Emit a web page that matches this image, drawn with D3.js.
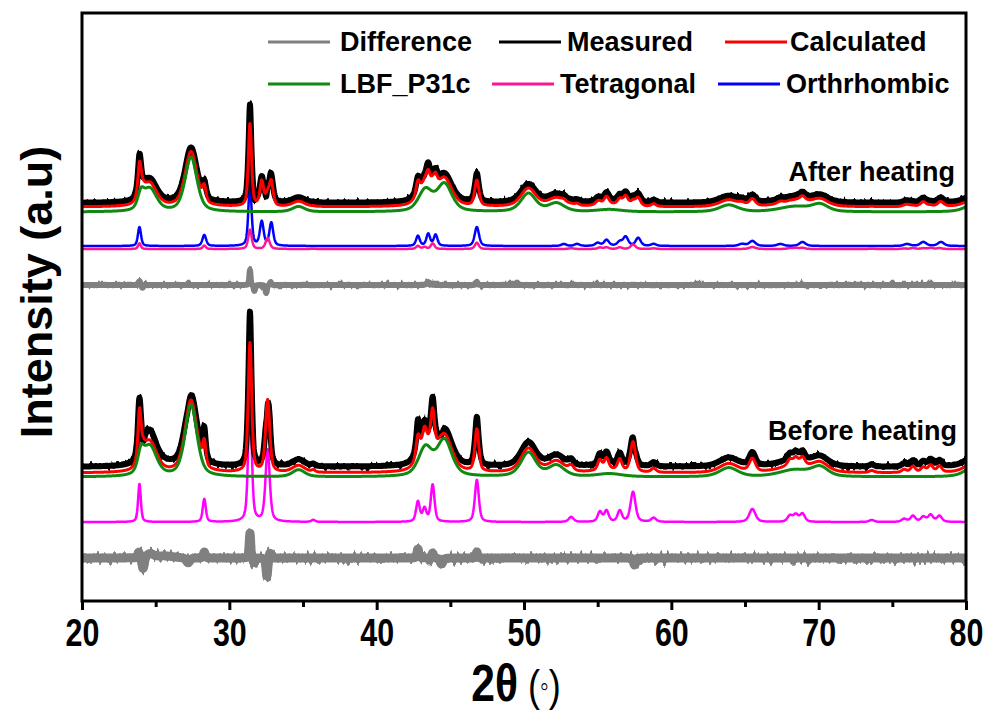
<!DOCTYPE html>
<html>
<head>
<meta charset="utf-8">
<script src="https://cdn.jsdelivr.net/npm/d3@7"></script>
<style>
  body { margin: 0; background: #fff; }
  text { font-family: "Liberation Sans", Arial, sans-serif; }
</style>
</head>
<body>
<div id="chart"></div>
<script>
// reflection lists: [2theta, height, fwhm]
const lbfPeaks = [
  [24.0, 18, 0.5], [24.6, 30, 1.1], [27.4, 72, 0.95], [34.7, 7, 1.0],
  [43.3, 28, 1.1], [44.6, 36, 1.2], [50.3, 24, 1.2], [52.2, 11, 1.3],
  [55.8, 3, 2.0], [63.9, 9, 1.5], [68.4, 7, 2.5], [70.1, 9, 1.3], [80.8, 14, 1.6]
];
const tetraPeaks = [
  [23.9, 38, 0.22], [28.3, 23, 0.25], [31.4, 129, 0.28], [32.6, 72, 0.34],
  [35.7, 2, 0.3], [42.8, 20, 0.3], [43.25, 13, 0.3], [43.8, 37, 0.3],
  [46.8, 42, 0.32], [53.2, 5, 0.4], [55.15, 10, 0.35], [55.6, 11, 0.35],
  [56.5, 11, 0.35], [57.4, 30, 0.4], [58.8, 4, 0.4], [65.5, 13, 0.5],
  [68.05, 6, 0.4], [68.45, 7, 0.4], [68.9, 8, 0.4], [73.6, 2, 0.4],
  [75.8, 3, 0.4], [76.4, 6, 0.4], [77.1, 5, 0.4], [77.6, 7, 0.4], [78.2, 6, 0.4]
];
const orthoPeaks = [
  [23.9, 19, 0.25], [28.3, 11, 0.3], [31.4, 63, 0.25], [32.2, 24, 0.3],
  [32.85, 23, 0.3], [42.8, 10, 0.3], [43.5, 12, 0.3], [44.0, 11, 0.3],
  [46.8, 19, 0.35], [52.7, 2, 0.4], [53.6, 2, 0.4], [55.0, 3, 0.4],
  [55.6, 6, 0.4], [56.5, 4, 0.4], [56.9, 9, 0.4], [57.75, 8, 0.4],
  [58.8, 2, 0.4], [64.8, 2, 0.5], [65.5, 5, 0.5], [67.4, 2, 0.5],
  [68.9, 4, 0.5], [76.0, 2, 0.5], [77.1, 4, 0.5], [78.3, 4, 0.5]
];
// measured minus calculated
const residBefore = [
  [23.85, 6, 0.15], [24.15, -12, 0.2], [24.6, 4, 0.6], [25.6, 2, 1.5],
  [27.2, -5, 0.3], [28.3, 6, 0.15], [31.4, 25, 0.12], [31.65, -5, 0.12],
  [32.55, -18, 0.15], [32.75, 6, 0.12], [42.8, 9, 0.15], [43.8, 5, 0.15],
  [44.4, -6, 0.25], [46.8, 6, 0.12], [57.5, -7, 0.15]
];
const residAfter = [
  [23.9, 4, 0.15], [24.1, -3, 0.15], [31.4, 15, 0.1], [31.7, -6, 0.12],
  [32.5, -8, 0.12], [32.8, 3, 0.12], [43.5, 3, 0.25], [46.8, 3, 0.12]
];
// phase scale factors and stacking offsets
const lbfScale = {before: 1, after: 0.76};
const tetraScale = {before: 1, after: 0.15};
const offsets = {
  before: {diff: 43, tetra: 79, lbf: 124, calc: 128, meas: 134},
  after: {diff: 316, tetra: 352, ortho: 355, lbf: 389, calc: 394, meas: 398}
};
const legendRows = [
  [["Difference", "#808080"], ["Measured", "#000000"], ["Calculated", "#ff0000"]],
  [["LBF_P31c", "#118811"], ["Tetragonal", "#ff1493"], ["Orthrhombic", "#0000ff"]]
];
const xTicks = [20, 30, 40, 50, 60, 70, 80];

const W = 992, H = 711;
const margin = {left: 82, right: 26, top: 13, bottom: 110};

const svg = d3.select("#chart").append("svg").attr("width", W).attr("height", H);

const x = d3.scaleLinear().domain([20, 80]).range([margin.left, W - margin.right]);
const y = d3.scaleLinear().domain([0, 588]).range([H - margin.bottom, margin.top]);

const grid = d3.range(20, 80.0001, 0.02);

function pv(t, p) {
  let u = (t - p[0]) / p[2];
  let g = Math.exp(-4 * Math.LN2 * u * u);
  let l = 1 / (1 + 4 * u * u);
  return p[1] * (0.5 * l + 0.5 * g);
}
function pattern(peaks, k) {
  return grid.map(t => d3.sum(peaks, p => pv(t, p)) * k);
}

const lbfB = pattern(lbfPeaks, lbfScale.before);
const tetB = pattern(tetraPeaks, tetraScale.before);
const resB = pattern(residBefore, 1);
const lbfA = pattern(lbfPeaks, lbfScale.after);
const tetA = pattern(tetraPeaks, tetraScale.after);
const ortA = pattern(orthoPeaks, 1);
const resA = pattern(residAfter, 1);

const ob = offsets.before, oa = offsets.after;
const series = {
  diffB: grid.map((t, i) => ob.diff + resB[i]),
  tetB: grid.map((t, i) => ob.tetra + tetB[i]),
  lbfB: grid.map((t, i) => ob.lbf + lbfB[i]),
  calcB: grid.map((t, i) => ob.calc + lbfB[i] + tetB[i]),
  measB: grid.map((t, i) => ob.meas + lbfB[i] + tetB[i] + resB[i]),
  diffA: grid.map((t, i) => oa.diff + resA[i]),
  tetA: grid.map((t, i) => oa.tetra + tetA[i]),
  ortA: grid.map((t, i) => oa.ortho + ortA[i]),
  lbfA: grid.map((t, i) => oa.lbf + lbfA[i]),
  calcA: grid.map((t, i) => oa.calc + lbfA[i] + tetA[i] + ortA[i]),
  measA: grid.map((t, i) => oa.meas + lbfA[i] + tetA[i] + ortA[i] + resA[i])
};

// noise texture for measured / difference traces (rendering only)
const defs = svg.append("defs");
function jitter(id, freq, scale, seed) {
  let f = defs.append("filter").attr("id", id)
    .attr("filterUnits", "userSpaceOnUse")
    .attr("x", 0).attr("y", 0).attr("width", W).attr("height", H);
  f.append("feTurbulence").attr("type", "fractalNoise")
    .attr("baseFrequency", freq).attr("numOctaves", 1).attr("seed", seed).attr("result", "n");
  let ct = f.append("feComponentTransfer").attr("in", "n").attr("result", "n2");
  ct.append("feFuncR").attr("type", "table").attr("tableValues", "0.5 0.5");
  f.append("feDisplacementMap").attr("in", "SourceGraphic").attr("in2", "n2")
    .attr("scale", scale).attr("xChannelSelector", "R").attr("yChannelSelector", "G");
}
jitter("jMeas", "0.3 0.02", 12, 2);
jitter("jDiffA", "0.3 0.02", 12, 5);
jitter("jDiffB", "0.3 0.02", 18, 7);

defs.append("clipPath").attr("id", "clip").append("rect")
  .attr("x", x(20)).attr("y", y(588)).attr("width", x(80) - x(20)).attr("height", y(0) - y(588));

const line = d3.line().x((d, i) => x(grid[i])).y(d => y(d));

const plot = svg.append("g").attr("clip-path", "url(#clip)");
function draw(data, color, width, filter) {
  let p = plot.append("path").datum(data).attr("d", line)
    .attr("fill", "none").attr("stroke", color).attr("stroke-width", width)
    .attr("stroke-linejoin", "round");
  if (filter) p.attr("filter", "url(#" + filter + ")");
}
function noisy(data, color, width, filter) {
  draw(data, color, width);
  draw(data, color, width - 1.5, filter);
}

noisy(series.diffB, "#808080", 9, "jDiffB");
draw(series.tetB, "#ff00ff", 2.5);
noisy(series.measB, "#000000", 6, "jMeas");
draw(series.calcB, "#ff0000", 3);
draw(series.lbfB, "#118811", 3);

noisy(series.diffA, "#808080", 6, "jDiffA");
draw(series.ortA, "#0000ff", 2.5);
draw(series.tetA, "#ff1493", 2.5);
noisy(series.measA, "#000000", 6, "jMeas");
draw(series.calcA, "#ff0000", 3);
draw(series.lbfA, "#118811", 3);

// frame
svg.append("rect").attr("x", x(20)).attr("y", y(588))
  .attr("width", x(80) - x(20)).attr("height", y(0) - y(588))
  .attr("fill", "none").attr("stroke", "#000").attr("stroke-width", 3);

// bottom axis
const xAxis = d3.axisBottom(x).tickValues(xTicks).tickSize(9).tickSizeOuter(0);
const gx = svg.append("g").attr("transform", `translate(0,${y(0)})`).call(xAxis);
gx.select(".domain").remove();
gx.selectAll(".tick line").attr("stroke-width", 3);
gx.selectAll(".tick text")
  .attr("y", 0).attr("dy", 0)
  .attr("transform", "translate(0,45) scale(0.8,1)")
  .style("font-family", "'Liberation Sans', Arial, sans-serif")
  .style("font-weight", "bold").style("font-size", "38px").attr("fill", "#000");

const gm = svg.append("g").attr("transform", `translate(0,${y(0)})`)
  .call(d3.axisBottom(x).tickValues(d3.range(25, 80, 10)).tickSize(6).tickFormat(""));
gm.select(".domain").remove();
gm.selectAll(".tick line").attr("stroke-width", 3);

// axis titles
const xt = svg.append("text").attr("text-anchor", "middle")
  .attr("transform", "translate(516,701) scale(0.82,1)");
xt.append("tspan").text("2θ").style("font-weight", "bold").style("font-size", "52px");
xt.append("tspan").text(" (").style("font-size", "44px");
xt.append("tspan").text("◦").style("font-size", "30px").attr("dy", -5);
xt.append("tspan").text(")").style("font-size", "44px").attr("dy", 5);

svg.append("text").attr("transform", `translate(52,292) rotate(-90)`)
  .attr("text-anchor", "middle").style("font-weight", "bold").style("font-size", "45px")
  .text("Intensity (a.u)");

// legend
const legLines = [[268, 499, 725], [268, 492, 718]];
const legTexts = [[340, 567, 790], [340, 560, 786]];
const legY = [42, 84];
legendRows.forEach((row, r) => {
  row.forEach((item, c) => {
    let lx = legLines[r][c];
    svg.append("line").attr("x1", lx).attr("x2", lx + 62)
      .attr("y1", legY[r]).attr("y2", legY[r])
      .attr("stroke", item[1]).attr("stroke-width", 3);
    svg.append("text").attr("x", legTexts[r][c]).attr("y", legY[r]).attr("dy", "0.35em")
      .style("font-weight", "bold").style("font-size", "27px").text(item[0]);
  });
});

svg.append("text").attr("x", 955).attr("y", 181).attr("text-anchor", "end")
  .style("font-weight", "bold").style("font-size", "27px").text("After heating");
svg.append("text").attr("x", 957).attr("y", 440).attr("text-anchor", "end")
  .style("font-weight", "bold").style("font-size", "27px").text("Before heating");
</script>
</body>
</html>
